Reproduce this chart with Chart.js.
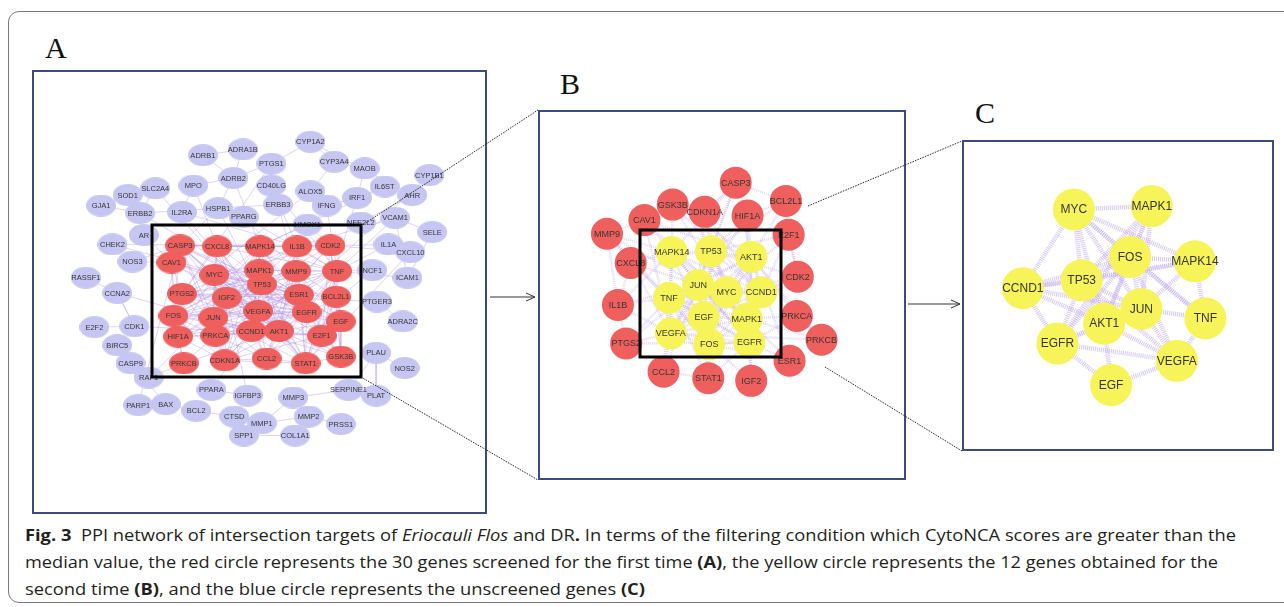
<!DOCTYPE html>
<html>
<head>
<meta charset="utf-8">
<script src="https://cdn.jsdelivr.net/npm/chart.js@4.4.1/dist/chart.umd.min.js"></script>
<style>
body{margin:0;width:1284px;height:607px;overflow:hidden;background:#fff;position:relative;font-family:"Liberation Sans",Arial,sans-serif}
.frame{position:absolute;left:8px;top:11px;width:1310px;height:590px;border:1.5px solid #7a7a7a;border-radius:11px}
.box{position:absolute;border:2.5px solid #3c4a7d;box-sizing:border-box}
canvas{position:absolute}
.lab{position:absolute;font-family:"Liberation Serif","Times New Roman",serif;font-size:30px;color:#111;line-height:1}
.cap{position:absolute;left:25px;font-family:"Open Sans",sans-serif;font-size:16px;color:#231f20;white-space:nowrap;transform-origin:0 0;line-height:20px}
svg{position:absolute;left:0;top:0;z-index:5}
</style>
</head>
<body>
<div class="frame"></div>

<div class="lab" style="left:45px;top:33px">A</div>
<div class="lab" style="left:560px;top:69px">B</div>
<div class="lab" style="left:975px;top:98px">C</div>

<div class="box" style="left:32px;top:70px;width:455px;height:444px"></div>
<div class="box" style="left:538px;top:110px;width:368px;height:370px"></div>
<div class="box" style="left:962px;top:140px;width:312px;height:311px"></div>

<canvas id="panelA" width="455" height="444" style="left:32px;top:70px"></canvas>
<canvas id="panelB" width="368" height="370" style="left:538px;top:110px"></canvas>
<canvas id="panelC" width="312" height="311" style="left:962px;top:140px"></canvas>

<svg width="1284" height="607">
  <rect x="152" y="225" width="209" height="152" fill="none" stroke="#000" stroke-width="3"/>
  <rect x="640" y="230" width="141" height="127" fill="none" stroke="#000" stroke-width="3"/>
  <g stroke="#222" stroke-width="1" stroke-dasharray="1.5 1.2" fill="none">
    <line x1="361" y1="226" x2="538" y2="110"/>
    <line x1="361" y1="377" x2="538" y2="480"/>
    <line x1="808" y1="206" x2="962" y2="141"/>
    <line x1="825" y1="367" x2="962" y2="451"/>
  </g>
  <g stroke="#333" stroke-width="1" fill="none">
    <line x1="490" y1="297" x2="535" y2="297"/>
    <polyline points="526,293 535,297 526,301"/>
    <line x1="908" y1="304" x2="960" y2="304"/>
    <polyline points="951,300 960,304 951,308"/>
  </g>
</svg>

<div class="cap" id="cap1" style="top:525px"><b>Fig. 3</b>&nbsp; PPI network of intersection targets of <i>Eriocauli Flos</i> and DR<b>.</b> In terms of the filtering condition which CytoNCA scores are greater than the</div>
<div class="cap" id="cap2" style="top:552px">median value, the red circle represents the 30 genes screened for the first time <b>(A)</b>, the yellow circle represents the 12 genes obtained for the</div>
<div class="cap" id="cap3" style="top:579px">second time <b>(B)</b>, and the blue circle represents the unscreened genes <b>(C)</b></div>

<script>
// ---- panel A : full network (layout positions)
const aRedNames = ["CASP3","CXCL8","MAPK14","IL1B","CDK2","CAV1","MYC","MAPK1","MMP9","TNF","TP53","PTGS2","IGF2","ESR1","BCL2L1","VEGFA","EGFR","FOS","JUN","EGF","CCND1","AKT1","E2F1","HIF1A","PRKCA","PRKCB","CDKN1A","CCL2","STAT1","GSK3B"];
const aRedX = [176,215,260,299,334,167,212,259,298,341,262,178,225,301,340,258,309,169,211,345,251,280,325,174,213,180,223,267,308,345];
const aRedY = [243,244,244,244,243,261,274,269,270,270,284,294,298,295,297,312,313,317,319,323,333,333,338,339,338,367,364,362,367,360];

const aBlueNames = ["CYP1A2","ADRA1B","ADRB1","PTGS1","CYP3A4","MAOB","CYP1B1","ADRB2","MPO","CD40LG","SLC2A4","IL6ST","ALOX5","SOD1","AHR","IRF1","GJA1","IFNG","ERBB3","HSPB1","IL2RA","ERBB2","PPARG","VCAM1","NFE2L2","HMOX1","SELE","AR","CHEK2","IL1A","CXCL10","NOS3","NCF1","ICAM1","RASSF1","CCNA2","PTGER3","ADRA2C","CDK1","E2F2","BIRC5","PLAU","CASP9","NOS2","RAF1","PPARA","SERPINE1","IGFBP3","PLAT","MMP3","BAX","PARP1","BCL2","CTSD","MMP2","MMP1","PRSS1","SPP1","COL1A1"];
const aBlueX = [313,242,200,272,338,370,438,232,190,272,150,391,313,121,420,362,93,330,279,216,178,134,243,402,366,310,441,138,105,395,418,126,378,415,77,110,383,410,128,86,110,382,124,412,143,209,353,247,382,295,161,132,193,233,311,262,345,243,297];
const aBlueY = [134,142,148,157,155,162,169,172,180,180,183,181,186,190,190,193,201,201,200,204,208,209,213,214,219,221,229,232,242,242,250,260,269,277,277,293,302,323,328,329,348,356,367,372,382,395,395,401,401,403,410,411,417,423,423,430,431,443,443];

const aEdges = [
  "CASP3 CXCL8 MAPK14 TP53 MYC JUN FOS AKT1 VEGFA CCND1 ESR1 STAT1 IL1B EGFR PRKCA",
  "CXCL8 MAPK14 IL1B TNF MYC JUN STAT1 CCL2 VEGFA PTGS2 EGFR AKT1",
  "MAPK14 IL1B TNF MAPK1 TP53 JUN FOS AKT1 HIF1A CCND1 ESR1 EGFR CDKN1A",
  "IL1B CDK2 TNF MMP9 PTGS2 CCL2 STAT1 VEGFA AKT1 JUN FOS",
  "CDK2 TP53 CCND1 E2F1 CDKN1A MYC BCL2L1 GSK3B EGF",
  "CAV1 MYC PTGS2 FOS EGFR AKT1 VEGFA ESR1 HIF1A",
  "MYC MAPK1 TP53 IGF2 JUN FOS CCND1 CDKN1A ESR1 EGFR AKT1 E2F1 HIF1A GSK3B",
  "MAPK1 MMP9 TNF TP53 ESR1 VEGFA EGFR EGF JUN FOS CCND1 AKT1 PRKCA STAT1",
  "MMP9 TNF ESR1 BCL2L1 VEGFA EGFR AKT1 JUN FOS PTGS2 CCL2 EGF",
  "TNF BCL2L1 ESR1 EGFR EGF E2F1 AKT1 JUN FOS PTGS2 CCL2 STAT1 VEGFA",
  "TP53 ESR1 BCL2L1 VEGFA EGFR JUN CCND1 AKT1 CDKN1A E2F1 STAT1 HIF1A IGF2",
  "PTGS2 IGF2 FOS JUN HIF1A PRKCA VEGFA EGFR AKT1 ESR1",
  "IGF2 JUN VEGFA AKT1 PRKCA CDKN1A EGFR",
  "ESR1 BCL2L1 EGFR EGF AKT1 CCND1 JUN FOS VEGFA STAT1 GSK3B",
  "BCL2L1 EGF E2F1 AKT1 GSK3B STAT1",
  "VEGFA EGFR EGF JUN FOS CCND1 AKT1 HIF1A PRKCA STAT1 CCL2",
  "EGFR EGF AKT1 JUN FOS CCND1 E2F1 STAT1 PRKCA GSK3B HIF1A",
  "FOS JUN HIF1A PRKCA CCND1 AKT1 PRKCB CDKN1A",
  "JUN PRKCA CCND1 AKT1 HIF1A CDKN1A CCL2 STAT1",
  "EGF AKT1 E2F1 GSK3B STAT1",
  "CCND1 AKT1 E2F1 CDKN1A GSK3B CCL2 PRKCA",
  "AKT1 E2F1 CDKN1A CCL2 STAT1 GSK3B PRKCA PRKCB HIF1A",
  "HIF1A PRKCA PRKCB CDKN1A",
  "PRKCA PRKCB CDKN1A CCL2",
  "CDKN1A CCL2 STAT1 E2F1",
  "CCL2 STAT1",
  "STAT1 GSK3B",
  "E2F1 GSK3B",
  "CYP1A2 CYP3A4 AHR PTGS1",
  "ADRA1B ADRB2 ADRB1",
  "ADRB1 ADRB2",
  "PTGS1 CD40LG PTGS2 ADRB2",
  "CYP3A4 MAOB ALOX5",
  "MAOB IRF1",
  "CYP1B1 AHR ESR1",
  "ADRB2 MPO HSPB1 MAPK14",
  "MPO IL2RA CXCL8",
  "CD40LG ERBB3 IL1B TNF",
  "SLC2A4 ERBB2 AKT1",
  "IL6ST IRF1 MAPK14",
  "ALOX5 IFNG PTGS2",
  "SOD1 ERBB2 GJA1",
  "AHR NFE2L2",
  "IRF1 IFNG STAT1",
  "GJA1 ERBB2",
  "IFNG TNF IL1B",
  "ERBB3 EGFR ERBB2",
  "HSPB1 CASP3 AKT1",
  "IL2RA STAT1 IL1B",
  "ERBB2 EGFR AR",
  "PPARG TNF MMP9",
  "VCAM1 TNF IL1B",
  "NFE2L2 HMOX1",
  "HMOX1 CDK2 MAPK14",
  "SELE VCAM1 ICAM1",
  "AR CAV1",
  "CHEK2 CDK2 TP53",
  "IL1A IL1B TNF",
  "CXCL10 CDK2 STAT1",
  "NOS3 CAV1 CASP3",
  "NCF1 TNF CCL2",
  "ICAM1 VCAM1 TNF",
  "RASSF1 CCNA2",
  "CCNA2 CDK1 CCND1",
  "PTGER3 PTGS2",
  "ADRA2C PTGER3",
  "CDK1 CCNA2 E2F1",
  "E2F2 CDK1",
  "BIRC5 CASP9",
  "PLAU PLAT SERPINE1",
  "CASP9 BAX RAF1",
  "NOS2 PLAU",
  "RAF1 PRKCB MAPK1",
  "PPARA IGFBP3 CCND1",
  "SERPINE1 PLAT MMP3",
  "IGFBP3 IGF2 CTSD",
  "MMP3 MMP2 MMP1",
  "BAX BCL2 PARP1",
  "PARP1 CASP3",
  "BCL2 CTSD",
  "CTSD MMP1 SPP1",
  "MMP2 MMP1 COL1A1 PRSS1",
  "MMP1 SPP1",
  "SPP1 COL1A1"
];

// ---- panel B : 30 first-round genes
const bRedNames = ["CASP3","BCL2L1","GSK3B","CDKN1A","HIF1A","CAV1","MMP9","E2F1","CXCL8","CDK2","IL1B","PRKCA","PRKCB","PTGS2","ESR1","CCL2","STAT1","IGF2"];
const bRedX = [737,792,668,703,750,637,596,795,622,805,608,804,831,617,796,658,707,754];
const bRedY = [172,192,196,204,208,213,228,229,260,275,306,318,344,348,367,379,386,389];
const bYellowNames = ["MAPK14","TP53","AKT1","JUN","MYC","CCND1","TNF","EGF","MAPK1","VEGFA","FOS","EGFR"];
const bYellowX = [667,710,754,696,727,765,664,702,749,666,708,752];
const bYellowY = [248,247,253,284,292,292,298,319,321,337,349,347];

const bEdges = [
  "MAPK14 TP53 AKT1 JUN MYC TNF MAPK1 FOS EGFR VEGFA CCND1",
  "TP53 AKT1 JUN MYC CCND1 EGF MAPK1 FOS EGFR VEGFA",
  "AKT1 JUN MYC CCND1 TNF EGF MAPK1 VEGFA FOS EGFR",
  "JUN MYC CCND1 TNF EGF MAPK1 VEGFA FOS EGFR",
  "MYC CCND1 TNF MAPK1 FOS EGFR VEGFA",
  "CCND1 EGF MAPK1 EGFR FOS TNF",
  "TNF EGF MAPK1 VEGFA FOS EGFR",
  "EGF MAPK1 VEGFA FOS EGFR",
  "MAPK1 VEGFA FOS EGFR",
  "VEGFA FOS EGFR",
  "FOS EGFR",
  "CASP3 AKT1 TP53 MAPK14 JUN HIF1A CDKN1A BCL2L1",
  "BCL2L1 AKT1 TP53 E2F1 HIF1A",
  "GSK3B AKT1 MYC CCND1 MAPK14 CDKN1A CAV1",
  "CDKN1A TP53 MYC CCND1 JUN",
  "HIF1A VEGFA AKT1 TP53 MAPK1",
  "CAV1 EGFR AKT1 MAPK1 VEGFA MMP9",
  "MMP9 TNF JUN FOS MAPK14 IL1B CXCL8",
  "E2F1 CCND1 MYC TP53 CDK2",
  "CXCL8 TNF JUN IL1B MAPK14 VEGFA",
  "CDK2 CCND1 TP53 MYC E2F1",
  "IL1B TNF JUN MAPK14 PTGS2 VEGFA",
  "PRKCA MAPK1 EGFR AKT1 PRKCB",
  "PRKCB MAPK1 AKT1 VEGFA",
  "PTGS2 TNF VEGFA JUN EGFR",
  "ESR1 EGFR MAPK1 AKT1 FOS",
  "CCL2 TNF JUN VEGFA STAT1",
  "STAT1 JUN FOS EGFR TNF",
  "IGF2 AKT1 MAPK1 EGFR FOS"
];

// ---- panel C : 12 second-round genes
const cNames = ["MYC","MAPK1","FOS","MAPK14","TP53","CCND1","JUN","TNF","AKT1","EGFR","VEGFA","EGF"];
const cX = [1067,1157,1132,1207,1076,1008,1145,1219,1102,1048,1186,1110];
const cY = [196,192,251,256,278,287,311,322,328,351,371,399];

const cEdges = [
  "MYC MAPK1 MAPK14 TNF TP53 CCND1 JUN AKT1 FOS",
  "MAPK1 FOS TP53 JUN EGFR AKT1",
  "FOS MAPK14 JUN TNF CCND1 TP53 EGFR AKT1 VEGFA",
  "MAPK14 TNF JUN TP53 CCND1",
  "TP53 CCND1 JUN AKT1 EGFR VEGFA",
  "CCND1 EGFR JUN AKT1",
  "JUN TNF VEGFA AKT1 EGFR",
  "AKT1 VEGFA EGF EGFR",
  "EGFR EGF VEGFA",
  "EGF VEGFA",
  "TNF VEGFA"
];

const RED = "#ef5f5d", BLUE = "#c6c6f3", YELLOW = "#f7f45a";

function ellipseStyle(w, h, color) {
  const c = document.createElement("canvas");
  c.width = w; c.height = h;
  const g = c.getContext("2d");
  g.fillStyle = color;
  g.beginPath();
  g.ellipse(w / 2, h / 2, w / 2, h / 2, 0, 0, Math.PI * 2);
  g.fill();
  return c;
}

function pts(xs, ys) {
  return xs.map((x, i) => ({ x: x, y: ys[i] }));
}

// turn "SRC T1 T2 ..." lines into line datasets
function edgeSets(lines, lookup, style) {
  const out = [];
  lines.forEach(line => {
    const parts = line.split(" ");
    const a = lookup[parts[0]];
    parts.slice(1).forEach(n => {
      const b = lookup[n];
      if (!a || !b) return;
      out.push(Object.assign({
        data: [a, b], showLine: true, pointRadius: 0, fill: false, order: 2
      }, style));
    });
  });
  return out;
}

const labelPlugin = {
  id: "nodeLabels",
  afterDatasetsDraw(chart) {
    const ctx = chart.ctx;
    chart.data.datasets.forEach((ds, i) => {
      if (!ds.names) return;
      const meta = chart.getDatasetMeta(i);
      ctx.save();
      ctx.font = ds.labelFont;
      ctx.fillStyle = "#363636";
      ctx.textAlign = "center";
      ctx.textBaseline = "middle";
      meta.data.forEach((p, j) => ctx.fillText(ds.names[j], p.x, p.y + 0.5));
      ctx.restore();
    });
  }
};

function panel(id, xr, yr, nodeSets, edgeLines, edgeStyle) {
  const lookup = {};
  nodeSets.forEach(s => s.names.forEach((n, i) => { lookup[n] = { x: s.x[i], y: s.y[i] }; }));
  const datasets = nodeSets.map(s => ({
    data: pts(s.x, s.y),
    names: s.names,
    labelFont: s.font,
    pointStyle: s.style,
    pointRadius: s.radius,
    backgroundColor: s.color,
    borderWidth: 0,
    order: 0
  })).concat(edgeSets(edgeLines, lookup, edgeStyle));

  new Chart(document.getElementById(id), {
    type: "scatter",
    data: { datasets: datasets },
    options: {
      responsive: false,
      animation: false,
      events: [],
      layout: { padding: 0 },
      plugins: { legend: { display: false }, tooltip: { enabled: false } },
      scales: {
        x: { type: "linear", min: xr[0], max: xr[1], display: false },
        y: { type: "linear", min: yr[0], max: yr[1], reverse: true, display: false }
      }
    },
    plugins: [labelPlugin]
  });
}

panel("panelA", [32, 487], [70, 514], [
  { names: aBlueNames, x: aBlueX, y: aBlueY, color: BLUE, style: ellipseStyle(30, 22, BLUE), radius: 11, font: "7.5px 'Liberation Sans', Arial" },
  { names: aRedNames, x: aRedX, y: aRedY, color: RED, style: ellipseStyle(30, 22, RED), radius: 11, font: "7.5px 'Liberation Sans', Arial" }
], aEdges, { borderColor: "rgba(172,140,226,0.38)", borderWidth: 1 });

panel("panelB", [538, 906], [110, 480], [
  { names: bRedNames, x: bRedX, y: bRedY, color: RED, style: "circle", radius: 16, font: "9px 'Liberation Sans', Arial" },
  { names: bYellowNames, x: bYellowX, y: bYellowY, color: YELLOW, style: "circle", radius: 16, font: "9px 'Liberation Sans', Arial" }
], bEdges, { borderColor: "rgba(190,168,236,0.45)", borderWidth: 2.5, borderDash: [1, 1] });

panel("panelC", [962, 1274], [140, 451], [
  { names: cNames, x: cX, y: cY, color: YELLOW, style: "circle", radius: 21, font: "12px 'Liberation Sans', Arial" }
], cEdges, { borderColor: "rgba(196,176,240,0.7)", borderWidth: 4.5, borderDash: [1, 1] });

// caption lines fitted to the widths in the figure
[["cap1", 1211], ["cap2", 1193], ["cap3", 620]].forEach(([id, w]) => {
  const el = document.getElementById(id);
  const s = w / el.getBoundingClientRect().width;
  el.style.transform = "scaleX(" + s + ")";
});
</script>
</body>
</html>
